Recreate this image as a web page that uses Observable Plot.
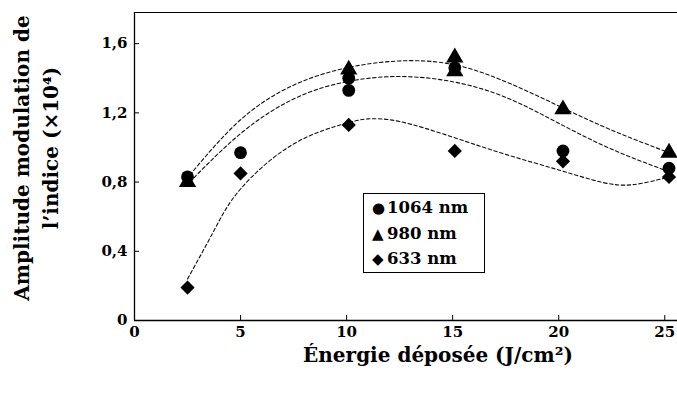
<!DOCTYPE html>
<html><head><meta charset="utf-8">
<script src="https://cdn.jsdelivr.net/npm/d3@7"></script>
<script src="https://cdn.jsdelivr.net/npm/@observablehq/plot@0.6"></script>
<style>
body{margin:0;background:#fff;}
#wrap{position:relative;width:677px;height:394px;font-family:"DejaVu Serif",serif;color:#000;}
.yt{position:absolute;font-weight:bold;font-size:20px;white-space:nowrap;transform:translate(-50%,-50%) rotate(-90deg);}
.xt{position:absolute;font-weight:bold;font-size:20px;white-space:nowrap;transform:translate(-50%,-50%);}
#legend{position:absolute;left:363px;top:193px;width:122px;height:80px;border:1px solid #000;box-sizing:border-box;font-size:16.5px;font-weight:bold;}
#legend div{position:absolute;left:8px;white-space:nowrap;}
#legend span{display:inline-block;width:15px;font-family:"DejaVu Sans";font-size:15px;}
</style></head>
<body><div id="wrap"></div>
<script>
// measured points
const x1064 = [2.5, 5.0, 10.1, 10.1, 15.1, 20.2, 25.2];
const y1064 = [0.83, 0.97, 1.33, 1.40, 1.46, 0.98, 0.88];
const x980 = [2.5, 10.1, 15.1, 15.1, 20.2, 25.2];
const y980 = [0.80, 1.45, 1.52, 1.44, 1.22, 0.97];
const x633 = [2.5, 5.0, 10.1, 15.1, 20.2, 25.2];
const y633 = [0.19, 0.85, 1.13, 0.98, 0.92, 0.83];
// fitted dashed trend curves
const cx980 = [2.6, 5, 7.5, 10, 12.5, 15, 17.5, 20, 22.5, 25.2];
const cy980 = [0.84, 1.16, 1.36, 1.46, 1.50, 1.48, 1.38, 1.24, 1.10, 0.97];
const cx1064 = [2.6, 5, 7.5, 10, 12.5, 15, 17.5, 20, 22.5, 25.2];
const cy1064 = [0.80, 1.08, 1.28, 1.38, 1.41, 1.38, 1.29, 1.14, 0.99, 0.86];
const cx633 = [2.5, 3.75, 5, 7.5, 10, 11, 12.5, 15, 17.5, 20, 22, 23.5, 25.2];
const cy633 = [0.24, 0.52, 0.76, 1.02, 1.14, 1.165, 1.15, 1.06, 0.96, 0.87, 0.80, 0.785, 0.83];
const xTicks = [0, 5, 10, 15, 20, 25];
const yTicks = [0, 0.4, 0.8, 1.2, 1.6];
const xDomain = [0, 25.6];
const yDomain = [0, 1.78];
const seriesNames = ["1064 nm", "980 nm", "633 nm"];
const symbols = ["circle", "triangle", "diamond2"];
const xTitle = "Énergie déposée (J/cm²)";
const yTitle1 = "Amplitude modulation de";
const yTitle2 = "l’indice (×10⁴)";

const zip = (xs, ys, s) => xs.map((x, i) => ({x, y: ys[i], s}));
const pts = [...zip(x1064, y1064, seriesNames[0]), ...zip(x980, y980, seriesNames[1]), ...zip(x633, y633, seriesNames[2])];
const curves = [zip(cx980, cy980, "a"), zip(cx1064, cy1064, "b"), zip(cx633, cy633, "c")];
const fmt = d => d3.format("")(d).replace(".", ",");

const plot = Plot.plot({
  width: 677, height: 394,
  marginLeft: 134, marginRight: 0, marginTop: 12, marginBottom: 74,
  style: {fontFamily: "DejaVu Serif", fontSize: "15px", fontWeight: "bold", background: "transparent", color: "#000"},
  x: {domain: xDomain},
  y: {domain: yDomain},
  symbol: {domain: seriesNames, range: symbols},
  marks: [
    Plot.ruleY([yDomain[1]], {stroke: "#000", strokeWidth: 1}),
    Plot.ruleX([0], {stroke: "#000", strokeWidth: 1.3}),
    Plot.ruleY([0], {stroke: "#000", strokeWidth: 1.3}),
    Plot.axisY({ticks: yTicks, tickSize: -5, text: null, label: null, stroke: "#000"}),
    Plot.axisX({ticks: xTicks.slice(1), tickSize: -5, text: null, label: null, stroke: "#000"}),
    Plot.axisY({ticks: yTicks, tickSize: 0, tickPadding: 7, tickFormat: fmt, label: null, fontWeight: "bold"}),
    Plot.axisX({ticks: xTicks, tickSize: 0, tickPadding: 6, tickFormat: fmt, label: null, fontWeight: "bold"}),
    ...curves.map(c => Plot.line(c, {x: "x", y: "y", curve: "natural", stroke: "#111", strokeWidth: 1.1, strokeDasharray: "3.5,2.5"})),
    Plot.dot(pts, {x: "x", y: "y", symbol: "s", r: 6.4, fill: "#000", stroke: "none"})
  ]
});
const wrap = document.getElementById("wrap");
wrap.appendChild(plot);
const add = (cls, txt, l, t) => { const d = document.createElement("div"); d.className = cls; d.textContent = txt; d.style.left = l + "px"; d.style.top = t + "px"; wrap.appendChild(d); };
add("yt", yTitle1, 22, 158);
add("yt", yTitle2, 51, 148);
add("xt", xTitle, 438, 355);
const leg = document.createElement("div"); leg.id = "legend";
const glyphs = ["●", "▲", "◆"];
seriesNames.forEach((n, i) => { const r = document.createElement("div"); r.style.top = (4 + i * 25.5) + "px"; r.innerHTML = `<span>${glyphs[i]}</span>${n}`; leg.appendChild(r); });
wrap.appendChild(leg);
</script></body></html>
